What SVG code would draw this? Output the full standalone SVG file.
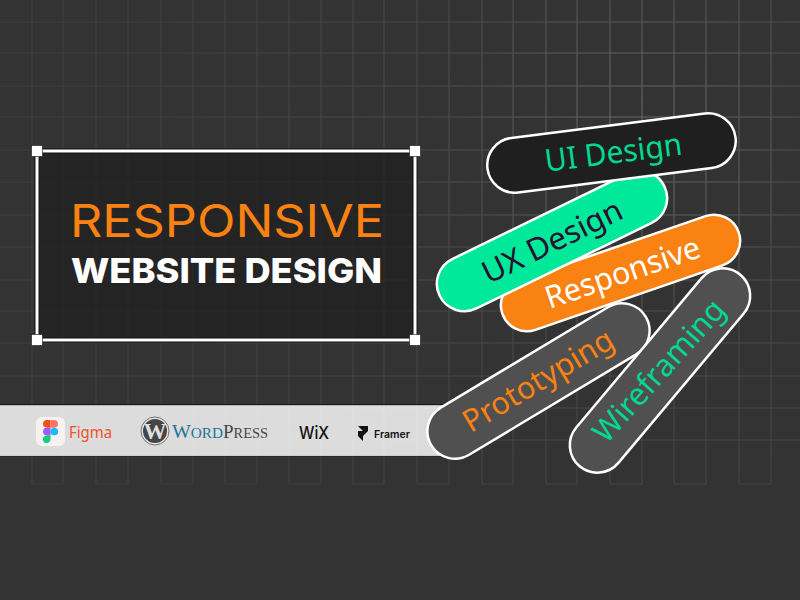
<svg xmlns="http://www.w3.org/2000/svg" width="800" height="600" viewBox="0 0 800 600">
<style>
.pill{stroke:#fff;stroke-width:2.5}
.pt{font-family:"Noto Sans","Open Sans",sans-serif;font-size:31px;text-anchor:middle}
.h{fill:#fff;stroke:#111;stroke-width:.6}
</style>
<defs>
<radialGradient id="g" gradientUnits="userSpaceOnUse" cx="640" cy="130" r="520">
<stop offset="0" stop-color="#686868"/><stop offset=".4" stop-color="#4a4a4a"/><stop offset="1" stop-color="#3e3e3e"/>
</radialGradient>
</defs>
<rect width="800" height="600" fill="#333"/>
<g id="grid" stroke="url(#g)" stroke-width="1.1" fill="none">
<path d="M0 22H800M0 53H800M0 86H800M0 117H800M0 150H800M0 182H800M0 215H800M0 247H800M0 280H800M0 311H800M0 343H800M0 376H800M0 408H800M0 440H800"/>
<path d="M32 0V484M63 0V484M96 0V484M128 0V484M161 0V484M193 0V484M225 0V484M257 0V484M289 0V484M321 0V484M353 0V484M384 0V484M417 0V484M449 0V484M482 0V484M513 0V484M546 0V484M577 0V484M610 0V484M642 0V484M674 0V484M706 0V484M739 0V484M771 0V484"/>
<path d="M32 484H63M96 484H128M161 484H193M225 484H257M289 484H321M353 484H384M417 484H449M482 484H513M546 484H577M610 484H642M674 484H706M739 484H771"/>
</g>
<g id="band">
<rect x="0" y="405" width="445" height="51" fill="#fff" fill-opacity=".83"/>
<path d="M0 404.7H445" stroke="#151515" stroke-width="1"/>
<path d="M0 456.4H445" stroke="#2a2a2a" stroke-width=".8"/>
</g>
<g id="logo-figma">
<rect x="36" y="417" width="29" height="29" rx="6" fill="#f5f2ef"/>
<path d="M50.5 420V427.7H46.9A3.85 3.85 0 0 1 46.9 420Z" fill="#f24e1e"/>
<path d="M50.5 420H54.1A3.85 3.85 0 0 1 54.1 427.7H50.5Z" fill="#ff7262"/>
<path d="M50.5 427.7H46.9A3.85 3.85 0 0 0 46.9 435.4H50.5Z" fill="#a259ff"/>
<circle cx="54.3" cy="431.5" r="3.85" fill="#1abcfe"/>
<path d="M50.5 435.4H46.9A3.85 3.85 0 1 0 50.5 439.2Z" fill="#0acf83"/>
<text x="69" y="438" font-family="Noto Sans,Open Sans,sans-serif" font-size="15.5" fill="#f2502a" textLength="43" lengthAdjust="spacingAndGlyphs">Figma</text>
</g>
<g id="logo-wordpress">
<circle cx="155" cy="431" r="14" fill="#e4e4e4" stroke="#666" stroke-width=".9"/>
<circle cx="155" cy="431" r="12" fill="#454545"/>
<text x="155" y="439" font-family="Liberation Serif,serif" font-size="23" font-weight="700" fill="#dedede" text-anchor="middle">W</text>
<text x="172" y="438" font-family="Liberation Serif,serif" font-size="19" fill="#21759b" textLength="51" lengthAdjust="spacingAndGlyphs">W<tspan font-size="14.5">ORD</tspan></text>
<text x="223" y="438" font-family="Liberation Serif,serif" font-size="19" fill="#464646" textLength="45" lengthAdjust="spacingAndGlyphs">P<tspan font-size="14.5">RESS</tspan></text>
</g>
<g id="logo-wix">
<text x="299" y="438.5" font-family="Inter,Liberation Sans,sans-serif" font-size="17.5" font-weight="500" fill="#111" textLength="30" lengthAdjust="spacingAndGlyphs">WiX</text>
</g>
<g id="logo-framer">
<path d="M358 426H368V431H363ZM358 431H368L363 436V441L358 436Z" fill="#111"/>
<text x="374" y="437.5" font-family="Inter,Liberation Sans,sans-serif" font-size="10.5" font-weight="600" fill="#111" textLength="36" lengthAdjust="spacingAndGlyphs">Framer</text>
</g>
<g id="panel">
<rect x="37" y="151" width="378" height="189" fill="#1f1f1f" fill-opacity=".72" stroke="#111" stroke-width="5"/>
<rect x="37" y="151" width="378" height="189" fill="none" stroke="#fff" stroke-width="3"/>
<rect class="h" x="31.5" y="145.5" width="11" height="11"/><rect class="h" x="409.5" y="145.5" width="11" height="11"/>
<rect class="h" x="31.5" y="334.5" width="11" height="11"/><rect class="h" x="409.5" y="334.5" width="11" height="11"/>
<text x="70" y="237" font-family="Inter,Liberation Sans,sans-serif" font-size="45.5" font-weight="400" fill="#f98212" textLength="314" lengthAdjust="spacingAndGlyphs">RESPONSIVE</text>
<text x="71" y="283" font-family="Inter,Liberation Sans,sans-serif" font-size="34.5" font-weight="800" fill="#fff" textLength="311" lengthAdjust="spacingAndGlyphs">WEBSITE DESIGN</text>
</g>
<g id="pill-responsive" transform="translate(620.5 273) rotate(-19)">
<rect class="pill" x="-125" y="-26" width="250" height="52" rx="26" fill="#f98212"/>
<text class="pt" x="2" y="11" fill="#fff" textLength="162" lengthAdjust="spacingAndGlyphs">Responsive</text>
</g>
<g id="pill-ux" transform="translate(552 241) rotate(-26)">
<rect class="pill" x="-125" y="-27.5" width="250" height="55" rx="27.5" fill="#00e89a"/>
<text class="pt" y="11" fill="#2a1030" textLength="152" lengthAdjust="spacingAndGlyphs">UX Design</text>
</g>
<g id="pill-ui" transform="translate(611.5 153) rotate(-7.2)">
<rect class="pill" x="-125" y="-27.5" width="250" height="55" rx="27.5" fill="#1f1f1f"/>
<text class="pt" x="2" y="10.5" fill="#00d98f" textLength="138" lengthAdjust="spacingAndGlyphs">UI Design</text>
</g>
<g id="pill-prototyping" transform="translate(538.5 381) rotate(-31)">
<rect class="pill" x="-125" y="-27.5" width="250" height="55" rx="27.5" fill="#505050"/>
<text class="pt" y="10" fill="#f98212" textLength="170" lengthAdjust="spacingAndGlyphs">Prototyping</text>
</g>
<g id="pill-wireframing" transform="translate(660 370.5) rotate(-48)">
<rect class="pill" x="-125" y="-27.5" width="250" height="55" rx="27.5" fill="#505050" transform="rotate(-2)"/>
<text class="pt" x="-1" y="10" fill="#00d98f" textLength="180" lengthAdjust="spacingAndGlyphs">Wireframing</text>
</g>
</svg>
